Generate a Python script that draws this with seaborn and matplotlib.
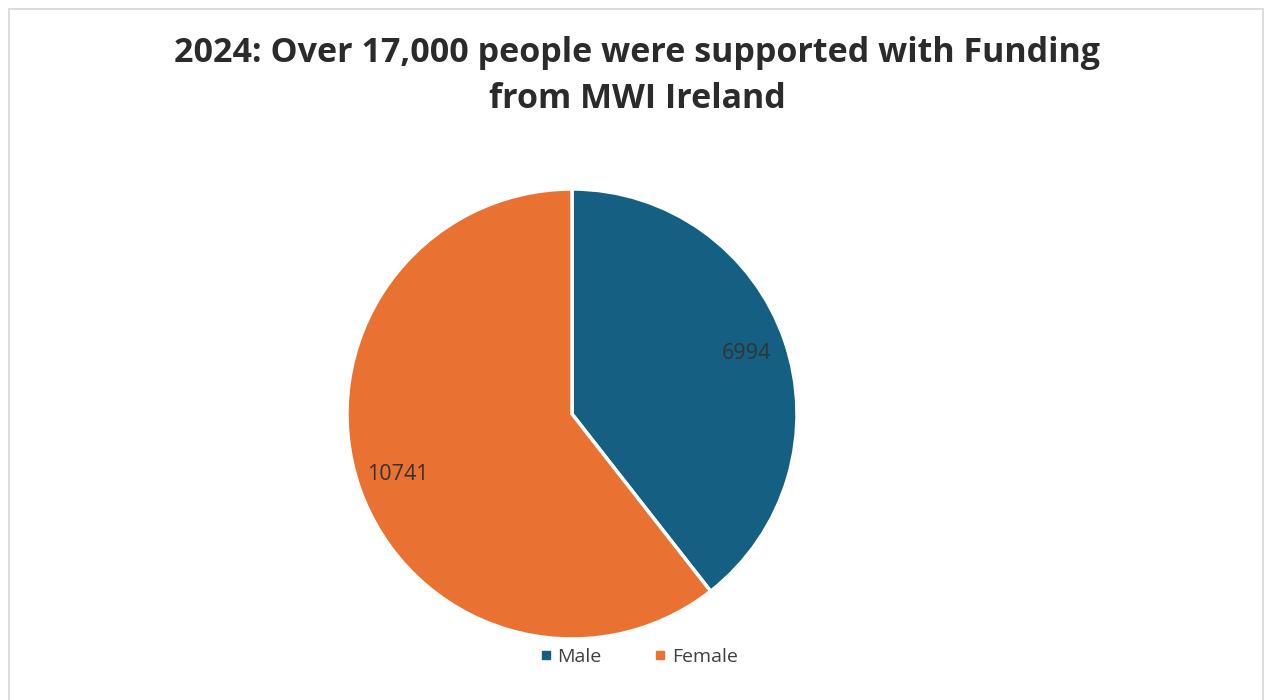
import matplotlib
matplotlib.use("Agg")
import matplotlib.pyplot as plt
import matplotlib.patches as mpatches
from matplotlib.lines import Line2D
import seaborn as sns

# Datos del gráfico
categories = ["Male", "Female"]
values = [6994, 10741]
colors = ["#156082", "#E97132"]
title = "2024: Over 17,000 people were supported with Funding\nfrom MWI Ireland"

sns.set_theme(style="white")
plt.rcParams["font.family"] = ["Open Sans", "DejaVu Sans"]

W, H = 1267, 700
fig = plt.figure(figsize=(W / 100, H / 100), dpi=100)
fig.patch.set_facecolor("white")

# Marco gris alrededor del gráfico
fig.add_artist(mpatches.Rectangle((8.5 / W, -0.01), (1263 - 8.5) / W, (H - 8.5) / H + 0.01,
                                  transform=fig.transFigure, fill=False,
                                  edgecolor="#D9D9D9", linewidth=1.3))

# Eje del pastel: centro (572, 414), radio 225 px
cx, cy, r = 572, 414, 225
ax = fig.add_axes([(cx - r) / W, (H - cy - r) / H, 2 * r / W, 2 * r / H])
total = sum(values)
wedges, _, autotexts = ax.pie(
    values, colors=colors, startangle=90, counterclock=False,
    autopct=lambda p: f"{round(p * total / 100)}", pctdistance=0.82,
    wedgeprops=dict(edgecolor="white", linewidth=2.5),
    textprops=dict(color="#333333", fontsize=15.5))
ax.set_xlim(-1, 1)
ax.set_ylim(-1, 1)
ax.set_aspect("equal")
ax.axis("off")

fig.text(637 / W, 1 - 76 / H, title, ha="center", va="center",
         fontsize=24.5, fontweight="bold", color="#2B2B2B", linespacing=1.45)

handles = [Line2D([0], [0], marker="s", linestyle="", markersize=6,
                  markerfacecolor=c, markeredgecolor=c) for c in colors]
fig.legend(handles, categories, loc="center", bbox_to_anchor=(636 / W, 1 - 657 / H),
           ncol=2, frameon=False, fontsize=14, handletextpad=0.0, columnspacing=2.4,
           handlelength=1.2, labelcolor="#404040")

fig.savefig("out.png", dpi=100, facecolor="white")
